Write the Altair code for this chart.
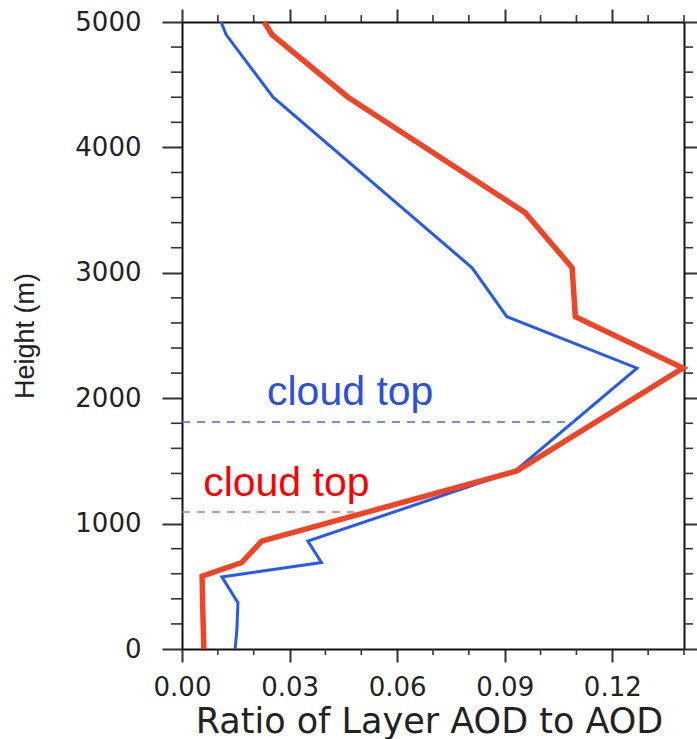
import altair as alt
import pandas as pd

# Vertical profiles of layer AOD fraction (height in m, ratio unitless)
blue_height = [0, 150, 370, 575, 690, 860, 1420, 2240, 2650, 3040, 4400, 4900, 5000]
blue_ratio = [0.0148, 0.0153, 0.0156, 0.0111, 0.0389, 0.0351, 0.0929, 0.1269,
              0.0906, 0.0809, 0.0254, 0.0123, 0.0109]
red_height = [0, 310, 580, 690, 860, 1420, 2240, 2650, 3040, 3480, 4400, 4900, 5000]
red_ratio = [0.0061, 0.0058, 0.0056, 0.0167, 0.0222, 0.0934, 0.1397, 0.1097,
             0.1088, 0.0957, 0.0463, 0.0251, 0.0229]

# Cloud-top markers: height, horizontal extent of the dashed line, label anchor
cloud_series = ["blue", "red"]
cloud_top_height = [1810, 1092]
cloud_top_extent = [0.1095, 0.048]
cloud_label = ["cloud top", "cloud top"]
cloud_label_x = [0.0237, 0.0059]
cloud_label_y = [1946, 1220]

x_major_ticks = [0.0, 0.03, 0.06, 0.09, 0.12]
x_minor_ticks = [0.01, 0.02, 0.04, 0.05, 0.07, 0.08, 0.10, 0.11, 0.13, 0.14]
y_major_ticks = [0, 1000, 2000, 3000, 4000, 5000]
y_minor_ticks = [200, 400, 600, 800, 1200, 1400, 1600, 1800, 2200, 2400, 2600,
                 2800, 3200, 3400, 3600, 3800, 4200, 4400, 4600, 4800]

line_colors = {"blue": "#245af2", "red": "#ef4526"}
dash_colors = {"blue": "#3a6cff", "red": "#f0645a"}
text_colors = {"blue": "#2a4ee6", "red": "#ff0000"}

W, H = 502, 627

profiles = pd.concat([
    pd.DataFrame({"series": "blue", "ratio": blue_ratio, "height": blue_height,
                  "order": range(len(blue_ratio))}),
    pd.DataFrame({"series": "red", "ratio": red_ratio, "height": red_height,
                  "order": range(len(red_ratio))}),
])
clouds = pd.DataFrame({
    "series": cloud_series,
    "height": cloud_top_height,
    "ratio": [0.0, 0.0],
    "ratio_end": cloud_top_extent,
    "label": cloud_label,
    "label_x": cloud_label_x,
    "label_y": cloud_label_y,
})
x_minor_df = pd.DataFrame({"ratio": x_minor_ticks})
y_minor_df = pd.DataFrame({"height": y_minor_ticks})

x_scale = alt.Scale(domain=[0, 0.14], nice=False, zero=False)
y_scale = alt.Scale(domain=[0, 5000], nice=False, zero=False)

TICK_FONT = "DejaVu Sans"
AXIS_COLOR = "#222222"
TICK_COLOR = "#333333"
X_TITLE = "Ratio of Layer AOD to AOD"
Y_TITLE = "Height (m)"

common_axis = dict(grid=False, domainColor="#111111", domainWidth=2,
                   tickColor=TICK_COLOR, tickWidth=2, labelOverlap=False,
                   labelFlush=False)

x_axis = alt.Axis(
    values=x_major_ticks, format=".2f", tickSize=13,
    labelFont=TICK_FONT, labelFontSize=26, labelColor=AXIS_COLOR,
    labelBaseline="alphabetic", labelPadding=33,
    titleFont=TICK_FONT, titleFontSize=35, titleFontWeight="normal",
    titleColor=AXIS_COLOR, titleBaseline="alphabetic", titleAlign="center",
    titleX=247, titleY=83,
    **common_axis,
)
y_axis = alt.Axis(
    values=y_major_ticks, format="d", tickSize=20,
    labelFont=TICK_FONT, labelFontSize=26, labelColor=AXIS_COLOR,
    labelPadding=21, labelBaseline="middle",
    titleFont="Liberation Sans", titleFontSize=27, titleFontWeight="normal",
    titleColor=AXIS_COLOR, titleAngle=270, titleBaseline="alphabetic",
    titleAlign="center", titleX=-149, titleY=313.5,
    **common_axis,
)

color_scale = alt.Scale(domain=list(line_colors), range=list(line_colors.values()))

lines = alt.Chart(profiles).mark_line(strokeJoin="miter").encode(
    x=alt.X("ratio:Q", scale=x_scale, axis=x_axis, title=X_TITLE),
    y=alt.Y("height:Q", scale=y_scale, axis=y_axis, title=Y_TITLE),
    color=alt.Color("series:N", scale=color_scale, legend=None),
    strokeWidth=alt.StrokeWidth(
        "series:N",
        scale=alt.Scale(domain=["blue", "red"], range=[3, 5.5]),
        legend=None,
    ),
    order="order:Q",
)

dashes = alt.Chart(clouds).mark_rule(strokeDash=[8, 7], strokeWidth=1.6).encode(
    x=alt.X("ratio:Q", scale=x_scale, title=X_TITLE),
    x2="ratio_end:Q",
    y=alt.Y("height:Q", scale=y_scale, title=Y_TITLE),
    color=alt.Color("series:N",
                    scale=alt.Scale(domain=list(dash_colors),
                                    range=list(dash_colors.values())),
                    legend=None),
)

labels = alt.Chart(clouds).mark_text(
    font="Liberation Sans", fontSize=41, align="left", baseline="alphabetic"
).encode(
    x=alt.X("label_x:Q", scale=x_scale, title=X_TITLE),
    y=alt.Y("label_y:Q", scale=y_scale, title=Y_TITLE),
    text="label:N",
    color=alt.Color("series:N",
                    scale=alt.Scale(domain=list(text_colors),
                                    range=list(text_colors.values())),
                    legend=None),
)

# Minor ticks on all four sides of the frame
minor = dict(color=TICK_COLOR, strokeWidth=1.6)
left_minor = alt.Chart(y_minor_df).mark_rule(**minor).encode(
    y=alt.Y("height:Q", scale=y_scale, title=Y_TITLE),
    x=alt.value(-11), x2=alt.value(0))
right_minor = alt.Chart(y_minor_df).mark_rule(**minor).encode(
    y=alt.Y("height:Q", scale=y_scale, title=Y_TITLE),
    x=alt.value(W), x2=alt.value(W + 9))
bottom_minor = alt.Chart(x_minor_df).mark_rule(**minor).encode(
    x=alt.X("ratio:Q", scale=x_scale, title=X_TITLE),
    y=alt.value(H), y2=alt.value(H + 6))
top_minor = alt.Chart(x_minor_df).mark_rule(**minor).encode(
    x=alt.X("ratio:Q", scale=x_scale, title=X_TITLE),
    y=alt.value(-7), y2=alt.value(0))

content = alt.layer(
    lines, dashes, labels, left_minor, right_minor, bottom_minor, top_minor
).resolve_scale(color="independent")

# Mirror axes on the top and right to close the frame
mirror = alt.Chart(profiles).mark_point(opacity=0).encode(
    x=alt.X("ratio:Q", scale=x_scale, title=None,
            axis=alt.Axis(orient="top", values=x_major_ticks, labels=False,
                          tickSize=13, **common_axis)),
    y=alt.Y("height:Q", scale=y_scale, title=None,
            axis=alt.Axis(orient="right", values=y_major_ticks, labels=False,
                          tickSize=14, **common_axis)),
)

chart = alt.layer(content, mirror).resolve_axis(
    x="independent", y="independent"
).properties(
    width=W,
    height=H,
    padding={"left": 182, "top": 22, "right": 13, "bottom": 90},
    autosize=alt.AutoSizeParams(type="none"),
    background="white",
).configure_view(stroke=None)

chart.save("out.html", embed_options={"renderer": "svg", "actions": False})
